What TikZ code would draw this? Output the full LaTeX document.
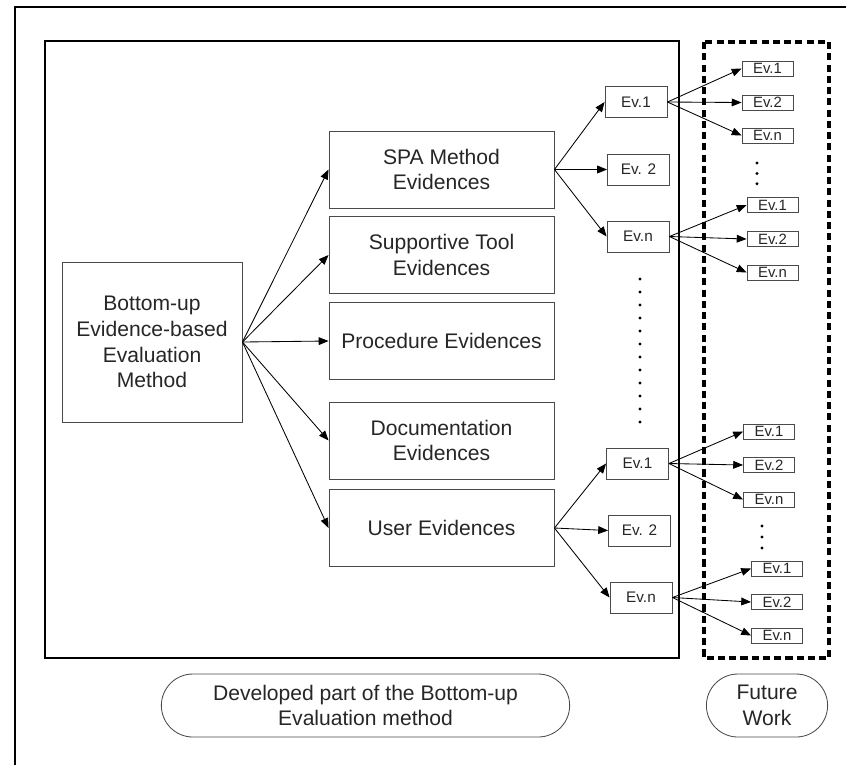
\documentclass[tikz,border=0pt]{standalone}
\usepackage{fontspec}
\setmainfont{Liberation Sans}
\usetikzlibrary{arrows.meta,positioning,shapes.misc}
\definecolor{evgray}{HTML}{4A4A4A}
\definecolor{evtext}{HTML}{262626}

\begin{document}
\begin{tikzpicture}[x=0.025cm, y=-0.025cm,
    every node/.style={draw=evgray, line width=0.6pt, text=evtext, align=center, inner sep=1pt},
    mainbox/.style={minimum width=4.5cm, minimum height=4cm, font=\fontsize{15}{18.3}\selectfont},
    catbox/.style={minimum width=5.625cm, minimum height=1.925cm, font=\fontsize{15}{18.3}\selectfont},
    evbox/.style={minimum width=1.55cm, minimum height=0.775cm, font=\fontsize{10.9}{12}\selectfont},
    subbox/.style={minimum width=1.275cm, minimum height=0.375cm, inner sep=0pt, font=\fontsize{10.6}{11}\selectfont},
    partlabel/.style={rounded rectangle, minimum height=1.575cm, font=\fontsize{15}{18.3}\selectfont},
    link/.style={-{Triangle[length=7pt, width=5.5pt]}, line width=0.6pt, black},
    dots/.style={line width=2.3pt, line cap=round, dash pattern=on 0pt off 9.25pt}
  ]
    % page and frames
    \useasboundingbox (0,0) rectangle (846,765);
    \draw[line width=1.5pt] (15,765) -- (15,7) -- (846,7);
    \draw[line width=2.1pt] (45,41) rectangle (679,658);
    \draw[line width=2.2pt, dash pattern=on 5pt off 3pt] (704,42) rectangle (829,658);

    \node[mainbox] (method) at (152,342) {Bottom-up\\Evidence-based\\Evaluation\\Method};

    \node[catbox] (spa) at (441.5,169.5) {SPA Method\\Evidences};
    \node[catbox] (tool) at (441.5,255) {Supportive Tool\\Evidences};
    \node[catbox] (proc) at (441.5,341) {Procedure Evidences};
    \node[catbox] (doc) at (441.5,440.5) {Documentation\\Evidences};
    \node[catbox] (user) at (441.5,528) {User Evidences};

    \draw[link] (method.east) -- (spa.west);
    \draw[link] (method.east) -- (tool.west);
    \draw[link] (method.east) -- (proc.west);
    \draw[link] (method.east) -- (doc.west);
    \draw[link] (method.east) -- (user.west);

    % second level
    \node[evbox] (spaone) at (636,102) {Ev.1};
    \node[evbox] (spatwo) at (638.5,169.5) {Ev. 2};
    \node[evbox] (span) at (638,236.5) {Ev.n};
    \node[evbox] (userone) at (637.5,463.5) {Ev.1};
    \node[evbox] (usertwo) at (639.5,530.5) {Ev. 2};
    \node[evbox] (usern) at (641,597.5) {Ev.n};

    \draw[link] (spa.east) -- (spaone.west);
    \draw[link] (spa.east) -- (spatwo.west);
    \draw[link] (spa.east) -- (span.west);
    \draw[link] (user.east) -- (userone.west);
    \draw[link] (user.east) -- (usertwo.west);
    \draw[link] (user.east) -- (usern.west);

    \coordinate (gaptop) at (640,279);
    \coordinate (gapbottom) at (640,423);
    \draw[dots] (gaptop) -- (gapbottom);

    % third level (future work)
    \node[subbox] (aone) at (767.5,68.5) {Ev.1};
    \node[subbox] (atwo) at (767.5,102.5) {Ev.2};
    \node[subbox] (an) at (767.5,135.5) {Ev.n};
    \node[subbox] (bone) at (772.5,205) {Ev.1};
    \node[subbox] (btwo) at (772.5,239) {Ev.2};
    \node[subbox] (bn) at (772.5,272.5) {Ev.n};
    \node[subbox] (cone) at (769,431.5) {Ev.1};
    \node[subbox] (ctwo) at (769,465) {Ev.2};
    \node[subbox] (cn) at (769,499.5) {Ev.n};
    \node[subbox] (done) at (777,568.5) {Ev.1};
    \node[subbox] (dtwo) at (777,602) {Ev.2};
    \node[subbox] (dn) at (777,635.5) {Ev.n};

    \draw[link] (spaone.east) -- (aone.west);
    \draw[link] (spaone.east) -- (atwo.west);
    \draw[link] (spaone.east) -- (an.west);
    \draw[link] (span.east) -- (bone.west);
    \draw[link] (span.east) -- (btwo.west);
    \draw[link] (span.east) -- (bn.west);
    \draw[link] (userone.east) -- (cone.west);
    \draw[link] (userone.east) -- (ctwo.west);
    \draw[link] (userone.east) -- (cn.west);
    \draw[link] (usern.east) -- (done.west);
    \draw[link] (usern.east) -- (dtwo.west);
    \draw[link] (usern.east) -- (dn.west);

    \coordinate (atop) at (757,163);
    \coordinate (abottom) at (757,184);
    \draw[dots, dash pattern=on 0pt off 7.4pt] (atop) -- (abottom);
    \coordinate (ctop) at (762,526);
    \coordinate (cbottom) at (762,548);
    \draw[dots, dash pattern=on 0pt off 7.8pt] (ctop) -- (cbottom);

    % part labels
    \node[partlabel, minimum width=10.275cm] (developed) at (365.5,705.5) {Developed part of the Bottom-up\\Evaluation method};
    \node[partlabel, minimum width=3.1cm] (future) at (767,705.5) {Future\\Work};
  \end{tikzpicture}
\end{document}
